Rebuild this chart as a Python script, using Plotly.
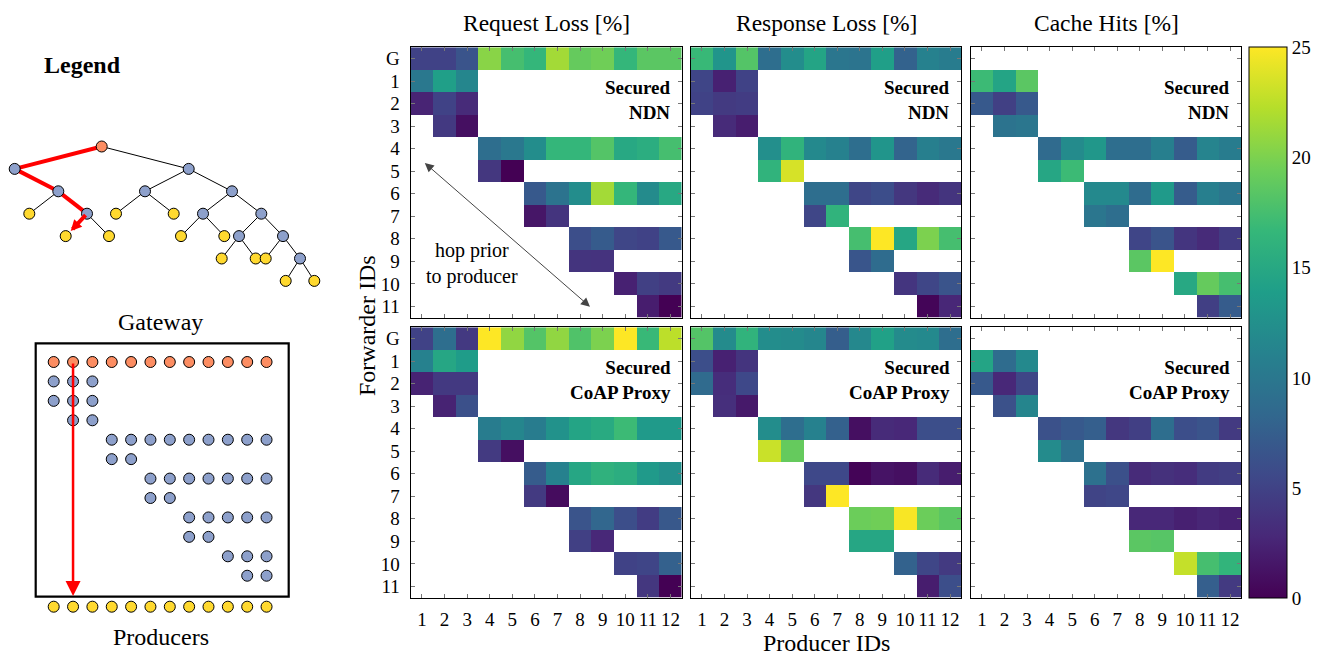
import plotly.graph_objects as go

# ---------------------------------------------------------------- data
ROW_LABELS = ["G", "1", "2", "3", "4", "5", "6", "7", "8", "9", "10", "11"]
PRODUCERS = list(range(1, 13))
# first / last producer column covered by each forwarder row
ROW_SPANS = [(1, 12), (1, 3), (1, 3), (2, 3), (4, 12), (4, 5),
             (6, 12), (6, 7), (8, 12), (8, 9), (10, 12), (11, 12)]

req_ndn = [
    [5.0, 5.0, 6.5, 20.5, 17.5, 16.5, 21.5, 19.0, 19.5, 16.5, 18.5, 18.5],
    [10.0, 14.0, 11.5],
    [2.5, 5.0, 3.0],
    [4.2, 1.0],
    [9.0, 10.0, 12.2, 16.5, 16.5, 18.2, 15.0, 15.5, 17.5],
    [4.0, 0.0],
    [7.0, 9.5, 12.2, 21.5, 16.5, 12.0, 15.0],
    [1.5, 3.8],
    [6.0, 7.2, 5.3, 5.0, 7.0],
    [3.8, 3.7],
    [2.3, 4.8, 4.3],
    [2.0, 0.0],
]
resp_ndn = [
    [16.8, 13.0, 18.2, 9.0, 12.2, 14.5, 9.8, 9.6, 14.0, 7.8, 11.0, 10.5],
    [5.2, 2.3, 5.0],
    [5.0, 4.3, 4.5],
    [3.0, 2.0],
    [12.4, 16.2, 11.8, 11.0, 9.0, 13.0, 8.0, 10.8, 10.0],
    [16.2, 23.5],
    [9.0, 9.0, 5.3, 5.9, 4.0, 3.0, 3.8],
    [5.3, 16.2],
    [17.5, 25.0, 14.8, 20.0, 17.5],
    [6.6, 8.8],
    [3.9, 5.3, 6.5],
    [0.3, 2.7],
]
cache_ndn = [
    [],
    [17.0, 14.5, 18.5],
    [7.0, 4.8, 7.0],
    [9.5, 9.8],
    [8.7, 12.0, 13.2, 9.0, 9.0, 10.8, 7.3, 11.3, 10.5],
    [14.8, 17.0],
    [11.8, 11.8, 8.8, 13.5, 7.3, 10.8, 9.8],
    [9.8, 9.0],
    [5.2, 6.5, 3.9, 3.0, 4.4],
    [18.5, 25.0],
    [15.0, 19.0, 17.5],
    [4.7, 7.3],
]
req_coap = [
    [5.0, 9.0, 4.2, 25.0, 20.8, 18.2, 20.8, 18.0, 20.0, 25.0, 16.8, 22.5],
    [11.0, 14.8, 13.7],
    [2.4, 4.2, 4.2],
    [2.4, 6.2],
    [10.5, 11.5, 10.5, 12.7, 14.5, 15.2, 17.0, 13.5, 13.5],
    [4.3, 1.0],
    [7.3, 11.0, 14.8, 16.0, 15.5, 13.5, 12.5],
    [4.3, 0.8],
    [6.5, 8.2, 6.0, 4.5, 6.9],
    [4.8, 2.8],
    [5.0, 5.2, 7.7],
    [4.0, 0.0],
]
resp_coap = [
    [18.2, 12.0, 16.2, 12.2, 12.0, 11.5, 7.4, 11.7, 14.2, 12.0, 11.8, 9.0],
    [6.0, 2.3, 3.8],
    [8.7, 3.2, 5.5],
    [3.4, 1.7],
    [12.2, 9.0, 11.0, 7.7, 1.0, 3.0, 2.8, 6.0, 6.0],
    [23.0, 19.0],
    [5.5, 5.5, 0.2, 1.3, 1.0, 3.0, 2.0],
    [4.0, 25.0],
    [19.3, 19.5, 24.8, 19.3, 18.5],
    [14.8, 14.8],
    [7.8, 5.3, 4.3],
    [2.0, 6.0],
]
cache_coap = [
    [],
    [14.5, 8.8, 11.8],
    [7.0, 2.8, 5.3],
    [6.3, 11.4],
    [6.3, 7.0, 7.5, 4.0, 4.7, 9.0, 6.0, 6.5, 4.3],
    [12.0, 9.3],
    [9.3, 6.2, 3.0, 3.5, 3.2, 4.4, 4.6],
    [5.1, 5.4],
    [2.8, 2.8, 2.2, 2.6, 2.3],
    [18.5, 18.3],
    [22.8, 17.5, 16.3],
    [7.5, 4.3],
]

METRICS = ["Request Loss [%]", "Response Loss [%]", "Cache Hits [%]"]
SETUPS = ["Secured<br>NDN", "Secured<br>CoAP Proxy"]
PANELS = [[req_ndn, resp_ndn, cache_ndn], [req_coap, resp_coap, cache_coap]]

# schematic topology: (x, depth, parent, kind)
TREE = [
    (101.7, 0, None, "gw"),
    (14.7, 1, 0, "fw"), (188.7, 1, 0, "fw"),
    (58.3, 2, 1, "fw"), (145.0, 2, 2, "fw"), (232.0, 2, 2, "fw"),
    (29.3, 3, 3, "pr"), (87.0, 3, 3, "fw"), (116.0, 3, 4, "pr"),
    (173.7, 3, 4, "pr"), (203.0, 3, 5, "fw"), (261.3, 3, 5, "fw"),
    (65.7, 4, 7, "pr"), (109.0, 4, 7, "pr"), (181.0, 4, 10, "pr"),
    (224.3, 4, 10, "pr"), (239.0, 4, 11, "fw"), (283.0, 4, 11, "fw"),
    (221.7, 5, 16, "pr"), (255.7, 5, 16, "pr"), (265.7, 5, 17, "pr"),
    (300.0, 5, 17, "fw"),
    (285.7, 6, 21, "pr"), (314.3, 6, 21, "pr"),
]
TREE_PATH = [0, 1, 3, 7, 12]

# ---------------------------------------------------------------- layout
W, H = 1330, 655
FONT = "Liberation Serif"
PANEL_X = [(410.7, 681.7), (690.7, 961.3), (970.7, 1241.3)]
PANEL_Y = [(47.3, 317.7), (327.3, 597.7)]
NODE_COL = {"gw": "#fc8d62", "fw": "#8da0cb", "pr": "#ffd92f"}


def grid(values):
    z = [[None] * 12 for _ in ROW_LABELS]
    for r, row in enumerate(values):
        first = ROW_SPANS[r][0]
        for k, v in enumerate(row):
            z[r][first - 1 + k] = v
    return z


fig = go.Figure()
layout = dict(
    width=W, height=H, margin=dict(l=0, r=0, t=0, b=0, pad=0),
    paper_bgcolor="white", plot_bgcolor="rgba(0,0,0,0)",
    font=dict(family=FONT, size=19, color="black"), showlegend=False,
)

for r in range(2):
    for c in range(3):
        i = r * 3 + c + 1
        sfx = "" if i == 1 else str(i)
        fig.add_trace(go.Heatmap(
            z=grid(PANELS[r][c]), x=PRODUCERS, y=list(range(12)),
            colorscale="Viridis", zmin=0, zmax=25,
            showscale=(i == 1), hoverinfo="skip",
            xaxis="x" + sfx, yaxis="y" + sfx,
            colorbar=dict(
                x=1249.3 / W, xanchor="left", xpad=0, ypad=0,
                y=1 - 47.3 / H, yanchor="top",
                len=(598.3 - 47.3) / H, lenmode="fraction",
                thickness=38, thicknessmode="pixels",
                outlinewidth=1, outlinecolor="black",
                tickvals=[0, 5, 10, 15, 20, 25], ticks="",
                tickfont=dict(family=FONT, size=19),
            ),
        ))
        x0, x1 = PANEL_X[c]
        y0, y1 = PANEL_Y[r]
        common = dict(showline=True, linecolor="black", linewidth=1.3,
                      mirror="ticks", ticks="inside", ticklen=4,
                      tickcolor="#777", showgrid=False, zeroline=False,
                      tickfont=dict(family=FONT, size=19))
        layout["xaxis" + sfx] = dict(
            domain=[x0 / W, x1 / W], range=[0.5, 12.5],
            tickvals=PRODUCERS, showticklabels=(r == 1),
            anchor="y" + sfx, ticklabelstandoff=4, **common)
        layout["yaxis" + sfx] = dict(
            domain=[1 - y1 / H, 1 - y0 / H], range=[11.5, -0.5],
            tickvals=list(range(12)), ticktext=ROW_LABELS,
            showticklabels=(c == 0), anchor="x" + sfx,
            ticklabelstandoff=6, **common)

# full-page overlay in pixel units for the schematic and the text
layout["xaxis7"] = dict(domain=[0, 1], range=[0, W], visible=False,
                        anchor="y7", fixedrange=True)
layout["yaxis7"] = dict(domain=[0, 1], range=[H, 0], visible=False,
                        anchor="x7", fixedrange=True)

annotations = []
shapes = []


def text(x, y, s, size=19, **kw):
    annotations.append(dict(x=x, y=y, xref="x7", yref="y7", text=s,
                            showarrow=False, font=dict(family=FONT, size=size),
                            **kw))


for c, title in enumerate(METRICS):
    text(sum(PANEL_X[c]) / 2, 23, title, size=23.5)
for r, setup in enumerate(SETUPS):
    for c in range(3):
        text(PANEL_X[c][1] - 9, PANEL_Y[r][0] + 53, "<b>%s</b>" % setup,
             size=19, xanchor="right", align="right")
text(sum(PANEL_X[1]) / 2, 643, "Producer IDs", size=24)
text(367, 326, "Forwarder IDs", size=24, textangle=-90)
text(471.7, 263, "hop prior<br>to producer", size=20)
annotations.append(dict(
    x=590, y=306.7, ax=423.3, ay=161.7, xref="x7", yref="y7",
    axref="x7", ayref="y7", text="", showarrow=True, arrowside="end+start",
    arrowhead=2, arrowsize=1.8, arrowwidth=1, arrowcolor="#444"))

# legend: tree topology
text(82, 65, "<b>Legend</b>", size=24)


def depth_y(d):
    return 146.5 + d * 22.4


for k, (x, d, p, kind) in enumerate(TREE):
    if p is None:
        continue
    px, pd = TREE[p][0], TREE[p][1]
    on_path = k in TREE_PATH and p in TREE_PATH
    if on_path and k == TREE_PATH[-1]:
        continue
    fig.add_trace(go.Scatter(
        x=[px, x], y=[depth_y(pd), depth_y(d)], mode="lines",
        line=dict(color="red" if on_path else "black",
                  width=4 if on_path else 1),
        xaxis="x7", yaxis="y7", hoverinfo="skip"))

last, prev = TREE[TREE_PATH[-1]], TREE[TREE_PATH[-2]]
annotations.append(dict(
    x=last[0] + 5, y=depth_y(last[1]) - 5, ax=prev[0], ay=depth_y(prev[1]),
    xref="x7", yref="y7", axref="x7", ayref="y7", text="", showarrow=True,
    arrowhead=2, arrowsize=0.55, arrowwidth=4, arrowcolor="red",
    standoff=0, startstandoff=0))

for kind in ("gw", "fw", "pr"):
    pts = [(x, depth_y(d)) for x, d, p, k in TREE if k == kind]
    fig.add_trace(go.Scatter(
        x=[p[0] for p in pts], y=[p[1] for p in pts], mode="markers",
        marker=dict(size=11, color=NODE_COL[kind],
                    line=dict(color="black", width=1)),
        xaxis="x7", yaxis="y7", hoverinfo="skip"))

# legend: forwarder / producer grid
GX0, GDX = 53.7, 19.35
GY0, GDY = 362.0, 19.43
text(160.7, 322, "Gateway", size=24)
text(160.7, 637, "Producers", size=24)
shapes.append(dict(type="rect", xref="x7", yref="y7", x0=35.7, y0=343.3,
                   x1=288.7, y1=596.7, line=dict(color="black", width=2.2)))

annotations.append(dict(
    x=GX0 + GDX, y=596.0, ax=GX0 + GDX, ay=GY0, xref="x7", yref="y7",
    axref="x7", ayref="y7", text="", showarrow=True, arrowhead=2,
    arrowsize=1.2, arrowwidth=2.5, arrowcolor="red", standoff=0))

for r, (first, lastc) in enumerate(ROW_SPANS):
    cols = list(range(first, lastc + 1))
    fig.add_trace(go.Scatter(
        x=[GX0 + (c - 1) * GDX for c in cols], y=[GY0 + r * GDY] * len(cols),
        mode="markers",
        marker=dict(size=11, color=NODE_COL["gw" if r == 0 else "fw"],
                    line=dict(color="black", width=1)),
        xaxis="x7", yaxis="y7", hoverinfo="skip"))
fig.add_trace(go.Scatter(
    x=[GX0 + (c - 1) * GDX for c in PRODUCERS], y=[606.7] * 12,
    mode="markers",
    marker=dict(size=11, color=NODE_COL["pr"],
                line=dict(color="black", width=1)),
    xaxis="x7", yaxis="y7", hoverinfo="skip"))

layout["annotations"] = annotations
layout["shapes"] = shapes
fig.update_layout(**layout)
fig.write_html("out.html")
